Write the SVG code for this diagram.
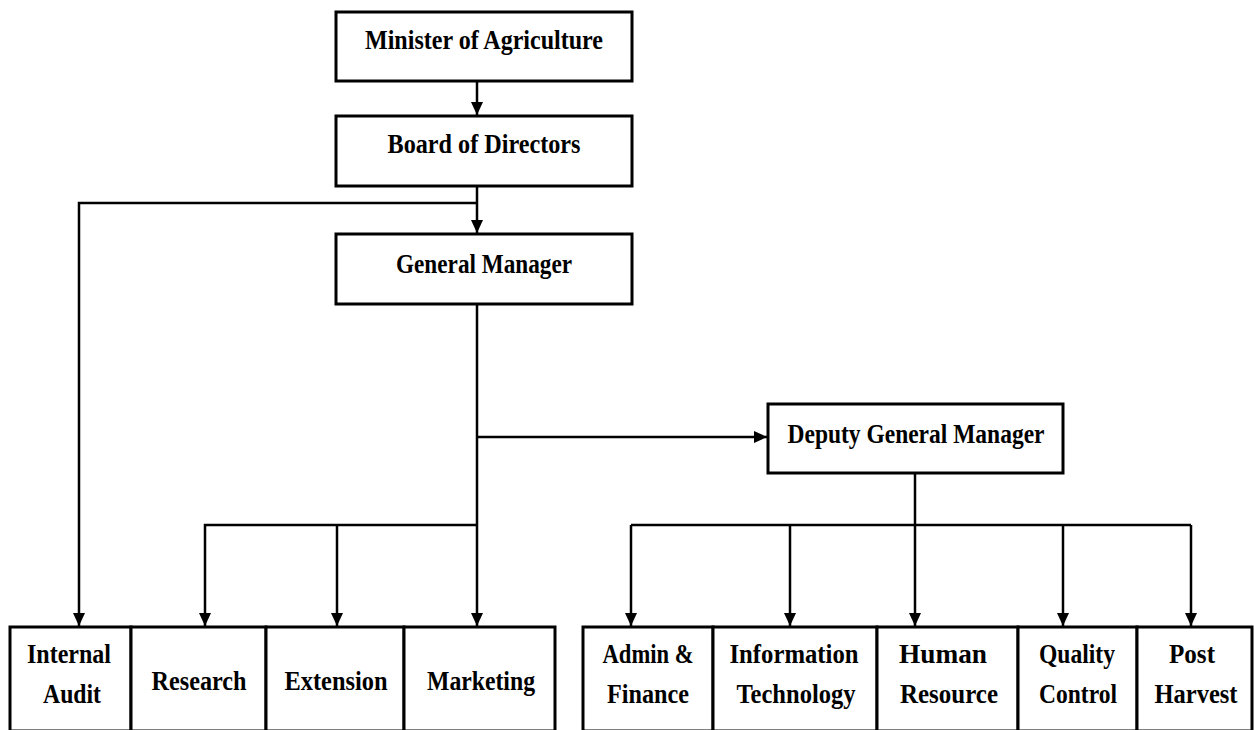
<svg xmlns="http://www.w3.org/2000/svg" width="1254" height="730" viewBox="0 0 1254 730">
<style>
.box{fill:#fff;stroke:#000;stroke-width:3}
.t{font-family:"Liberation Serif","Times New Roman",serif;font-weight:bold;font-size:28px;fill:#000;text-anchor:middle}
.c{fill:none;stroke:#000;stroke-width:2.5}
</style>
<defs>
<marker id="ah" viewBox="0 0 13 12" refX="13" refY="6" markerWidth="14" markerHeight="12" markerUnits="userSpaceOnUse" orient="auto">
<path d="M0,0 L13,6 L0,12 z" fill="#000"/>
</marker>
</defs>
<rect width="1254" height="730" fill="#fff"/>
<g id="connectors">
<path class="c" d="M477,81 V115" marker-end="url(#ah)"/>
<path class="c" d="M477,186 V233" marker-end="url(#ah)"/>
<path class="c" d="M477,203 H79 V626" marker-end="url(#ah)"/>
<path class="c" d="M477,304 V626" marker-end="url(#ah)"/>
<path class="c" d="M477,437 H767" marker-end="url(#ah)"/>
<path class="c" d="M477,525 H205 V626" marker-end="url(#ah)"/>
<path class="c" d="M337,525 V626" marker-end="url(#ah)"/>
<path class="c" d="M915,473 V525"/>
<path class="c" d="M631,525 H1191"/>
<path class="c" d="M631,525 V626" marker-end="url(#ah)"/>
<path class="c" d="M790,525 V626" marker-end="url(#ah)"/>
<path class="c" d="M915,525 V626" marker-end="url(#ah)"/>
<path class="c" d="M1063,525 V626" marker-end="url(#ah)"/>
<path class="c" d="M1191,525 V626" marker-end="url(#ah)"/>
</g>
<g id="minister">
<rect class="box" x="336" y="12" width="296" height="69"/>
<text class="t" x="484" y="49" textLength="238" lengthAdjust="spacingAndGlyphs">Minister of Agriculture</text>
</g>
<g id="board">
<rect class="box" x="336" y="116" width="296" height="70"/>
<text class="t" x="484" y="153" textLength="193" lengthAdjust="spacingAndGlyphs">Board of Directors</text>
</g>
<g id="gm">
<rect class="box" x="336" y="234" width="296" height="70"/>
<text class="t" x="484" y="273" textLength="176" lengthAdjust="spacingAndGlyphs">General Manager</text>
</g>
<g id="dgm">
<rect class="box" x="768" y="404" width="295" height="69"/>
<text class="t" x="916" y="443" textLength="257" lengthAdjust="spacingAndGlyphs">Deputy General Manager</text>
</g>
<g id="internal-audit">
<rect class="box" x="10" y="627" width="121" height="104"/>
<text class="t" x="69" y="663" textLength="84" lengthAdjust="spacingAndGlyphs">Internal</text>
<text class="t" x="72" y="703" textLength="58" lengthAdjust="spacingAndGlyphs">Audit</text>
</g>
<g id="research">
<rect class="box" x="131" y="627" width="135" height="104"/>
<text class="t" x="199" y="690" textLength="95" lengthAdjust="spacingAndGlyphs">Research</text>
</g>
<g id="extension">
<rect class="box" x="266" y="627" width="138" height="104"/>
<text class="t" x="336" y="690" textLength="103" lengthAdjust="spacingAndGlyphs">Extension</text>
</g>
<g id="marketing">
<rect class="box" x="404" y="627" width="151" height="104"/>
<text class="t" x="481" y="690" textLength="108" lengthAdjust="spacingAndGlyphs">Marketing</text>
</g>
<g id="admin-finance">
<rect class="box" x="583" y="627" width="130" height="104"/>
<text class="t" x="648" y="663" textLength="91" lengthAdjust="spacingAndGlyphs">Admin &amp;</text>
<text class="t" x="648" y="703" textLength="82" lengthAdjust="spacingAndGlyphs">Finance</text>
</g>
<g id="it">
<rect class="box" x="713" y="627" width="164" height="104"/>
<text class="t" x="794" y="663" textLength="129" lengthAdjust="spacingAndGlyphs">Information</text>
<text class="t" x="796" y="703" textLength="119" lengthAdjust="spacingAndGlyphs">Technology</text>
</g>
<g id="hr">
<rect class="box" x="877" y="627" width="141" height="104"/>
<text class="t" x="943" y="663" textLength="88" lengthAdjust="spacingAndGlyphs">Human</text>
<text class="t" x="949" y="703" textLength="98" lengthAdjust="spacingAndGlyphs">Resource</text>
</g>
<g id="qc">
<rect class="box" x="1018" y="627" width="119" height="104"/>
<text class="t" x="1077" y="663" textLength="76" lengthAdjust="spacingAndGlyphs">Quality</text>
<text class="t" x="1078" y="703" textLength="78" lengthAdjust="spacingAndGlyphs">Control</text>
</g>
<g id="post-harvest">
<rect class="box" x="1137" y="627" width="115" height="104"/>
<text class="t" x="1192" y="663" textLength="46" lengthAdjust="spacingAndGlyphs">Post</text>
<text class="t" x="1196" y="703" textLength="83" lengthAdjust="spacingAndGlyphs">Harvest</text>
</g>
</svg>
